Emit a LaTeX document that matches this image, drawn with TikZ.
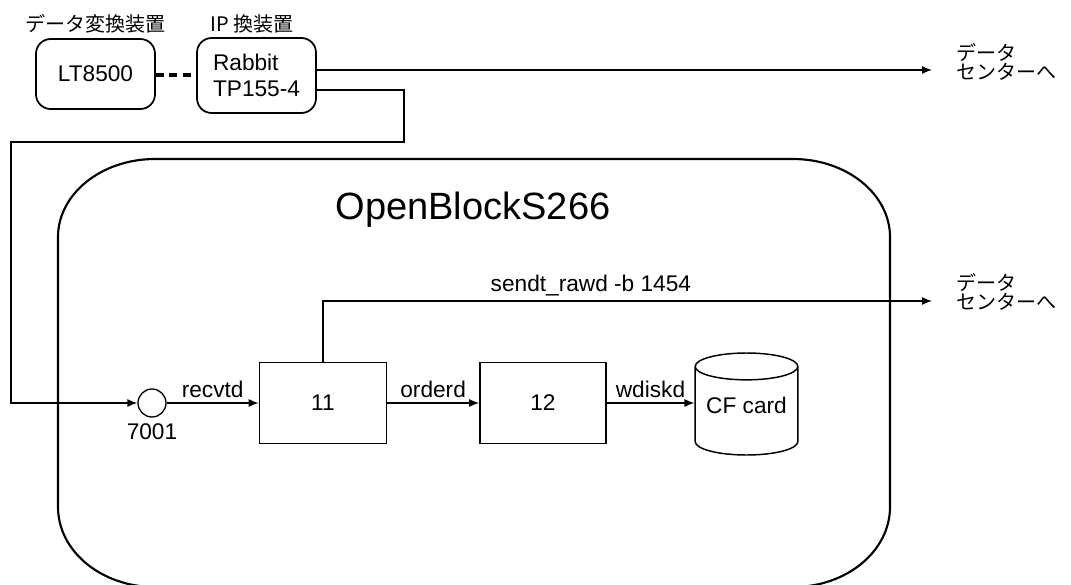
\documentclass[tikz,border=0pt]{standalone}
\usepackage{fontspec}
\setmainfont{Liberation Sans}
\newfontfamily\jpfont{Noto Sans CJK JP}
\usetikzlibrary{
        arrows.meta,
        calc,
        positioning,
        shapes.geometric
    }
\tikzset{>={Latex[length=7.5pt,width=6pt]},node distance=69pt}
\tikzset{every node/.style={font=\fontsize{17}{20}\selectfont},
         dev/.style={draw,line width=1.3pt,rounded corners=11pt,minimum width=89.25pt},
         proc/.style={draw,line width=1.1pt,minimum height=60.75pt},
         store/.style={draw,line width=1.1pt,cylinder,shape border rotate=90,aspect=0.3,
                       minimum width=77pt,minimum height=76.5pt},
         jp/.style={font=\jpfont\fontsize{15}{14}\selectfont},
         wire/.style={line width=1pt}}

\begin{document}
\begin{tikzpicture}[x=0.75pt,y=-0.75pt]
                \useasboundingbox (0,0) rectangle (1071,585);
                % outer box
                \draw[line width=1.6pt] (58,237) arc[start angle=180,end angle=270,x radius=97,y radius=78]
                    -- (793,159) arc[start angle=270,end angle=360,x radius=97,y radius=78]
                    -- (890,507) arc[start angle=0,end angle=90,x radius=97,y radius=80]
                    -- (155,587) arc[start angle=90,end angle=180,x radius=97,y radius=80] -- cycle;
                \node[font=\fontsize{28.5}{32}\selectfont] (obs) at (473,210) {OpenBlockS266};
                % devices
                \node[jp] (ltname) at (96,24) {データ変換装置};
                \node[jp] (ipname) at (252,24) {IP 換装置};
                \node[dev,minimum height=52.5pt] (lt) at (95.5,74) {LT8500};
                \node[dev,minimum height=56.25pt,align=left] (rab) at (256.5,75.5) {Rabbit\\TP155-4};
                \draw[line width=3pt,dash pattern=on 6pt off 4pt] (lt.east |- rab) -- (rab.west);
                % processes
                \node[draw,circle,line width=1pt,minimum size=21pt,inner sep=0pt] (port) at (152,403) {};
                \node (portno) at (152,432) {7001};
                \node[proc,minimum width=95.25pt] (p11) [right=of port] {11};
                \node[proc,minimum width=94.5pt] (p12) [right=of p11] {12};
                \node[store,anchor=shape center] (cf) at (746.5,404) {\raisebox{6pt}[\height][\depth]{CF card}};
                % destinations
                \coordinate (tipA) at (932,70);
                \coordinate (tipB) at (932,301);
                \coordinate (bendA) at (404,142);
                \coordinate (bendB) at (11,142);
                \node[jp,align=left,anchor=west] (dcA) at (952,62) {データ\\センターへ};
                \node[jp,align=left,anchor=west] (dcB) at (952,292) {データ\\センターへ};
                \draw[wire,->] (rab.east |- tipA) -- (tipA);
                \draw[wire,->] ($(rab.east)+(0,14.5)$) -| (bendA) -- (bendB) |- (port);
                \draw[wire,->] (p11.north) |- (tipB) node[pos=0.72,above] {sendt\_rawd -b 1454};
                \path[wire,->]
                    (port) edge node[above] {recvtd} (p11)
                    (p11)  edge node[above] {orderd} (p12)
                    (p12)  edge node[above] {wdiskd} (cf.west |- p12)
                    ;
\end{tikzpicture}
\end{document}
